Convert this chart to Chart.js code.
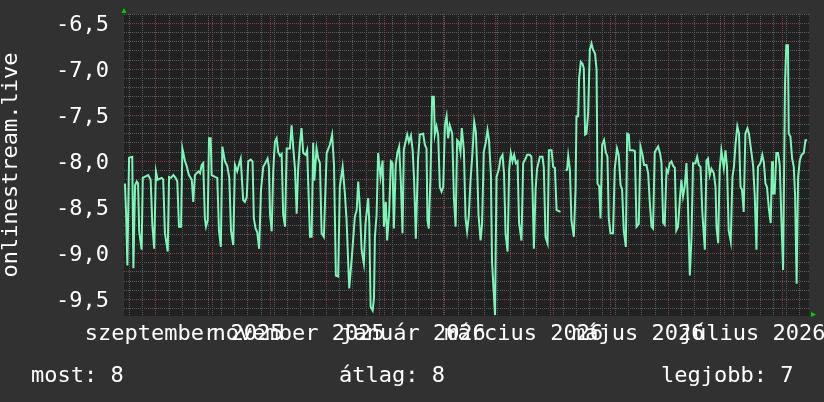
<!DOCTYPE html>
<html>
<head>
<meta charset="utf-8">
<style>
  html, body { margin: 0; padding: 0; background: #313131; }
</style>
<script src="https://cdn.jsdelivr.net/npm/chart.js@4.4.1/dist/chart.umd.min.js"></script>
</head>
<body>
<canvas id="chart" width="824" height="402"></canvas>
<script>
// Days since 2025-08-15 (x) and measured values (y); null marks the gap in early April
const days = [
  0.5, 1.1, 1.8, 2.7, 4.4, 5.0, 5.9, 6.8, 7.5, 8.1,
  9.4, 10.0, 12.9, 14.2, 15.1, 16.1, 17.0, 17.9, 20.1, 20.9,
  21.8, 23.3, 24.0, 25.0, 26.3, 27.5, 28.4, 29.3, 30.4, 31.1,
  32.5, 33.4, 34.6, 36.1, 36.9, 37.8, 39.6, 40.5, 41.4, 42.2,
  43.1, 43.7, 44.6, 45.3, 46.2, 46.7, 48.5, 49.7, 50.6, 51.6,
  52.4, 53.8, 55.0, 56.1, 57.0, 58.2, 59.1, 60.3, 61.2, 62.2,
  63.5, 64.4, 65.4, 66.2, 67.5, 68.5, 69.2, 70.1, 71.0, 72.0,
  73.0, 74.2, 75.3, 76.5, 77.2, 77.8, 78.7, 79.5, 80.4, 81.3,
  82.2, 83.1, 84.0, 84.8, 85.8, 86.7, 88.4, 89.3, 90.2, 91.1,
  92.0, 92.8, 93.7, 94.6, 95.5, 96.8, 97.6, 99.1, 100.0, 100.8,
  101.4, 102.6, 103.5, 104.4, 105.3, 106.5, 108.0, 109.7, 110.9, 111.9,
  112.9, 114.1, 115.0, 116.5, 117.7, 118.6, 120.0, 121.3, 123.0, 124.0,
  124.8, 125.7, 126.6, 127.8, 128.7, 130.1, 130.7, 131.4, 132.5, 133.2,
  133.7, 134.6, 135.4, 136.7, 137.8, 138.5, 139.5, 140.2, 141.3, 142.2,
  143.1, 143.8, 144.8, 145.7, 146.6, 147.5, 148.4, 149.1, 150.0, 150.9,
  151.8, 152.9, 153.8, 154.6, 155.5, 156.7, 157.6, 159.4, 160.3, 161.2,
  161.7, 162.4, 163.3, 164.2, 165.1, 165.6, 166.5, 167.4, 168.3, 169.2,
  170.1, 171.0, 171.9, 172.7, 173.6, 174.9, 175.8, 176.7, 177.5, 178.4,
  179.3, 180.0, 181.1, 182.0, 182.8, 183.7, 184.6, 185.7, 186.6, 187.5,
  188.2, 188.9, 190.0, 190.8, 191.7, 192.8, 193.7, 194.5, 195.5, 196.1,
  197.0, 197.7, 198.5, 199.7, 200.6, 201.7, 202.5, 203.3, 204.4, 205.2,
  206.1, 207.0, 207.9, 208.8, 209.7, 210.5, 211.8, 212.7, 214.0, 214.8,
  216.2, 217.1, 217.7, 218.4, 219.3, 220.1, 221.6, 223.0, 223.7, 224.6,
  225.7, 226.4, 227.8, 228.7, 229.6, 230.5, 232.6, 234.0, 235.3, 236.1,
  236.7, 237.6, 238.4, 239.7, 240.6, 241.1, 242.0, 242.5, 243.4, 244.3,
  245.0, 245.7, 246.4, 247.3, 248.2, 249.1, 250.0, 251.0, 251.8, 252.3,
  253.2, 253.9, 254.8, 255.8, 256.7, 257.6, 258.3, 259.2, 260.6, 261.5,
  262.7, 263.6, 264.6, 265.4, 266.3, 267.4, 268.1, 269.0, 269.5, 271.3,
  272.2, 273.1, 274.3, 275.2, 276.3, 277.1, 278.4, 279.3, 280.2, 281.1,
  281.9, 282.8, 284.6, 285.7, 286.4, 287.3, 288.1, 289.1, 289.9, 290.8,
  291.7, 292.6, 293.5, 294.3, 295.2, 296.1, 297.0, 297.9, 298.8, 299.7,
  300.5, 301.5, 302.4, 303.2, 304.5, 305.4, 306.3, 307.2, 308.2, 309.5,
  310.4, 311.2, 312.1, 313.0, 314.3, 315.2, 315.7, 316.6, 317.4, 318.3,
  319.6, 320.5, 321.3, 322.2, 323.3, 324.2, 325.0, 325.9, 326.8, 327.7,
  328.5, 329.3, 330.2, 331.1, 332.2, 333.0, 334.3, 335.2, 336.1, 337.0,
  337.8, 339.1, 340.1, 341.0, 341.8, 342.6, 343.7, 344.6, 345.3, 345.8,
  346.7, 347.6, 348.5, 349.4, 350.3, 351.2, 352.2, 352.9, 353.8, 354.2,
  355.1, 356.0, 356.9, 357.6, 358.4, 359.2, 360.1, 361.0, 362.2, 363.1,
  364.0
];
const values = [
  -8.24, -8.56, -9.13, -7.96, -7.95, -9.16, -8.26, -8.22, -8.24, -8.76,
  -8.96, -8.18, -8.15, -8.20, -8.69, -8.95, -8.11, -8.20, -8.18, -8.20,
  -8.78, -8.98, -8.17, -8.18, -8.15, -8.18, -8.22, -8.71, -8.71, -7.86,
  -8.00, -8.05, -8.15, -8.20, -8.44, -8.15, -8.11, -8.13, -8.04, -8.02,
  -8.62, -8.71, -8.64, -7.75, -7.75, -8.15, -8.17, -8.18, -8.75, -8.93,
  -7.84, -8.00, -8.05, -8.18, -8.75, -8.91, -8.04, -8.11, -8.04, -7.97,
  -8.42, -8.44, -8.39, -8.00, -7.98, -8.00, -8.62, -8.73, -8.77, -8.95,
  -8.31, -8.06, -8.02, -7.97, -8.06, -8.57, -8.76, -8.11, -7.79, -7.75,
  -7.90, -7.94, -7.92, -8.57, -8.71, -7.86, -7.86, -7.61, -7.86, -8.08,
  -8.57, -8.08, -7.82, -7.64, -7.91, -7.93, -7.88, -8.82, -8.82, -7.80,
  -8.21, -7.86, -7.97, -8.02, -8.78, -8.82, -7.91, -7.82, -7.71, -8.04,
  -9.24, -9.25, -8.28, -8.06, -8.35, -8.64, -9.38, -9.07, -8.60, -8.53,
  -8.22, -8.51, -8.96, -9.11, -8.67, -8.40, -8.67, -9.58, -9.62, -9.48,
  -8.82, -8.58, -7.91, -8.17, -7.99, -8.71, -8.44, -8.86, -8.55, -8.00,
  -8.02, -8.73, -8.04, -7.90, -7.84, -8.22, -8.78, -7.87, -7.79, -7.71,
  -7.79, -7.72, -7.88, -8.21, -8.84, -7.97, -7.71, -7.70, -7.82, -7.86,
  -8.64, -8.73, -8.17, -7.30, -7.30, -7.71, -7.62, -7.71, -8.28, -8.33,
  -8.28, -7.61, -7.51, -7.75, -7.61, -7.70, -8.40, -8.71, -7.77, -7.79,
  -7.90, -7.64, -7.88, -8.62, -8.76, -8.60, -8.22, -7.90, -7.57, -7.68,
  -8.08, -8.58, -8.86, -8.68, -7.90, -7.79, -7.66, -7.77, -8.15, -9.09,
  -9.42, -9.67, -8.17, -8.09, -7.97, -7.93, -8.13, -8.78, -8.98, -8.09,
  -7.91, -8.00, -7.93, -8.02, -8.00, -8.67, -8.86, -8.02, -7.97, -7.93,
  -7.93, -7.95, -8.33, -8.95, -8.31, -8.08, -7.95, -7.95, -8.07, -8.82,
  -8.89, -7.88, -7.88, -8.06, -8.07, -8.53, -8.55, null, -8.10, -8.09,
  -7.94, -8.09, -8.64, -8.82, -8.30, -7.51, -7.51, -7.10, -6.92, -6.94,
  -6.99, -7.71, -7.70, -7.48, -6.79, -6.72, -6.79, -6.83, -7.00, -8.24,
  -8.27, -8.62, -7.82, -7.77, -7.90, -7.95, -8.62, -8.78, -8.78, -8.08,
  -7.86, -7.93, -8.26, -8.30, -8.75, -8.93, -7.70, -7.71, -7.88, -7.88,
  -7.89, -8.71, -8.68, -7.84, -7.93, -8.04, -8.04, -8.13, -8.46, -8.71,
  -8.73, -7.90, -7.84, -7.92, -8.02, -8.67, -8.69, -8.09, -8.12, -8.02,
  -8.00, -8.05, -8.07, -8.75, -8.71, -8.44, -8.20, -8.38, -8.27, -8.02,
  -8.46, -9.24, -8.82, -8.02, -8.02, -7.95, -8.04, -8.06, -8.57, -8.96,
  -7.99, -7.97, -8.15, -8.08, -8.13, -8.28, -8.71, -8.89, -8.09, -7.88,
  -8.07, -7.88, -8.06, -8.75, -8.87, -8.17, -8.06, -7.80, -7.62, -7.70,
  -8.28, -8.31, -8.55, -7.70, -7.64, -7.70, -7.90, -8.04, -8.38, -8.96,
  -8.06, -8.02, -7.93, -8.02, -8.24, -8.28, -8.53, -8.67, -8.00, -8.35,
  -8.35, -7.91, -7.91, -8.04, -8.64, -9.18, -7.17, -6.74, -6.74, -7.70,
  -7.73, -7.97, -8.06, -8.38, -9.33, -8.17, -7.99, -7.93, -7.91, -7.77,
  -7.77
];

// x axis: month starts (red grid), Mondays (grey grid), label positions mid-month
const monthStarts = [17, 47, 78, 108, 139, 170, 198, 229, 259, 290, 320, 351];
const monthLabels = ['szeptember 2025', 'november 2025', 'január 2026', 'március 2026', 'május 2026', 'július 2026'];
const monthLabelDays = [32, 93, 154, 213, 274, 335];
const firstMonday = 3;

// y axis
const yLabels = [-9.5, -9.0, -8.5, -8.0, -7.5, -7.0, -6.5];
const yRange = [-9.68, -6.40];

const footerTexts = ['most: 8', 'átlag: 8', 'legjobb: 7'];
const yTitle = 'onlinestream.live';

const FONT = '"DejaVu Sans Mono", monospace';
const TEXT = '#ffffff';
const GRID_MINOR = '#5c5c5c';
const GRID_MAJOR = '#7a4444';
const LINE = '#7df5b9';

const weekDays = [];
for (let d = firstMonday; d <= 365; d += 7) weekDays.push(d);

const xTickValues = [...new Set([...weekDays, ...monthStarts, ...monthLabelDays])].sort((a, b) => a - b);
const yTickValues = [];
for (let i = Math.ceil(yRange[0] * 10); i <= Math.floor(yRange[1] * 10); i++) yTickValues.push(i / 10);

const points = days.map((d, i) => ({ x: d, y: values[i] }));

const isMajorY = v => yLabels.some(l => Math.abs(l - v) < 1e-6);

const backdrop = {
  id: 'backdrop',
  beforeDraw(chart) {
    const { ctx, chartArea: a } = chart;
    ctx.save();
    ctx.fillStyle = '#313131';
    ctx.fillRect(0, 0, chart.width, chart.height);
    ctx.fillStyle = '#212121';
    ctx.fillRect(a.left, a.top, a.right - a.left, a.bottom - a.top);
    ctx.restore();
  }
};

const decor = {
  id: 'decor',
  afterDraw(chart) {
    const { ctx, chartArea: a } = chart;
    ctx.save();
    // axis arrows
    ctx.fillStyle = '#00d000';
    ctx.beginPath();
    ctx.moveTo(a.left - 2.5, a.top - 1);
    ctx.lineTo(a.left + 2.5, a.top - 1);
    ctx.lineTo(a.left, a.top - 6);
    ctx.closePath();
    ctx.fill();
    ctx.beginPath();
    ctx.moveTo(a.right + 2, a.bottom - 4);
    ctx.lineTo(a.right + 2, a.bottom + 1);
    ctx.lineTo(a.right + 7, a.bottom - 1.5);
    ctx.closePath();
    ctx.fill();
    // footer
    ctx.fillStyle = TEXT;
    ctx.font = '22px ' + FONT;
    ctx.textBaseline = 'alphabetic';
    ctx.textAlign = 'left';
    const xs = [31, 339, 661];
    footerTexts.forEach((t, i) => ctx.fillText(t, xs[i], 382));
    ctx.restore();
  }
};

new Chart(document.getElementById('chart'), {
  type: 'line',
  data: {
    datasets: [{
      data: points,
      borderColor: LINE,
      borderWidth: 2,
      pointRadius: 0,
      tension: 0,
      spanGaps: false,
      fill: false
    }]
  },
  options: {
    responsive: false,
    animation: false,
    devicePixelRatio: 1,
    layout: { padding: { top: 14, right: 15, left: 0, bottom: 0 } },
    plugins: { legend: { display: false }, tooltip: { enabled: false } },
    scales: {
      x: {
        type: 'linear',
        min: 0,
        max: 365,
        afterBuildTicks: s => { s.ticks = xTickValues.map(v => ({ value: v })); },
        afterFit: s => { s.height = 86; s.paddingLeft = 0; s.paddingRight = 0; },
        border: { display: false, dash: [1, 1] },
        grid: {
          drawTicks: false,
          color: c => {
            const v = c.tick && c.tick.value;
            if (monthStarts.includes(v)) return GRID_MAJOR;
            if (weekDays.includes(v)) return GRID_MINOR;
            return 'rgba(0,0,0,0)';
          }
        },
        ticks: {
          autoSkip: false,
          maxRotation: 0,
          minRotation: 0,
          padding: 5,
          color: TEXT,
          font: { family: FONT, size: 22 },
          callback: v => {
            const i = monthLabelDays.indexOf(v);
            return i >= 0 ? monthLabels[i] : '';
          }
        }
      },
      y: {
        type: 'linear',
        min: yRange[0],
        max: yRange[1],
        afterBuildTicks: s => { s.ticks = yTickValues.map(v => ({ value: v })); },
        afterFit: s => { s.width = 124; s.paddingTop = 0; s.paddingBottom = 0; },
        border: { display: false, dash: [1, 1] },
        grid: {
          drawTicks: false,
          color: c => (c.tick && isMajorY(c.tick.value)) ? GRID_MAJOR : GRID_MINOR
        },
        ticks: {
          autoSkip: false,
          padding: 15,
          labelOffset: 2,
          color: TEXT,
          font: { family: FONT, size: 22 },
          callback: v => isMajorY(v) ? v.toFixed(1).replace('.', ',') : ''
        },
        title: {
          display: true,
          text: yTitle,
          color: TEXT,
          padding: 0,
          font: { family: FONT, size: 22, lineHeight: 1 }
        }
      }
    }
  },
  plugins: [backdrop, decor]
});
</script>
</body>
</html>
